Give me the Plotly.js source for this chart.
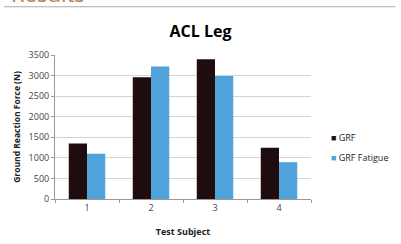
<!DOCTYPE html>
<html>
<head>
<meta charset="utf-8">
<script src="https://cdn.plot.ly/plotly-3.0.1.min.js"></script>
<style>html,body{margin:0;padding:0;background:#fff;}#chart{width:401px;height:244px;}</style>
</head>
<body>
<div id="chart"></div>
<script>
var categories = ["1", "2", "3", "4"];
var grf = [1350, 2960, 3395, 1245];
var grfFatigue = [1100, 3220, 2990, 895];
var yTicks = [0, 500, 1000, 1500, 2000, 2500, 3000, 3500];
var seriesNames = ["GRF", "GRF Fatigue"];
var seriesColors = ["#1f0c0f", "#4fa3da"];

var font = "Open Sans, Liberation Sans, sans-serif";
var data = [
  {type: "bar", name: seriesNames[0], x: categories, y: grf, marker: {color: seriesColors[0]}},
  {type: "bar", name: seriesNames[1], x: categories, y: grfFatigue, marker: {color: seriesColors[1]}}
];
var legendAnn = seriesNames.map(function (n, i) {
  return {
    text: "<span style='color:" + seriesColors[i] + "'>■</span> " + n,
    xref: "paper", yref: "paper", x: 1.07, y: 0.43 - i * 0.14,
    xanchor: "left", yanchor: "middle", showarrow: false,
    font: {family: font, size: 9, color: "#222"}
  };
});
var layout = {
  width: 401, height: 244,
  margin: {l: 55, r: 90, t: 55, b: 45},
  paper_bgcolor: "#fff", plot_bgcolor: "#fff",
  barmode: "group", bargap: 0.43, bargroupgap: 0,
  font: {family: font, size: 9, color: "#444"},
  title: {text: "<b>ACL Leg</b>", font: {family: font, size: 16, color: "#000"}, x: 0.5, xanchor: "center", y: 0.87, yanchor: "middle"},
  showlegend: false,
  xaxis: {
    type: "category", showline: true, linecolor: "#999", linewidth: 1,
    ticks: "outside", ticklen: 3, tickcolor: "#999", tickson: "boundaries",
    tickfont: {family: font, size: 9, color: "#444"},
    title: {text: "<b>Test Subject</b>", font: {family: font, size: 9, color: "#222"}, standoff: 15}
  },
  yaxis: {
    range: [0, 3500], tickvals: yTicks, showgrid: true, gridcolor: "#d4d4d4",
    showline: true, linecolor: "#999", ticks: "outside", ticklen: 3, tickcolor: "#999",
    tickfont: {family: font, size: 9, color: "#444"}, zeroline: false,
    title: {text: "<b>Ground Reaction Force (N)</b>", font: {family: font, size: 8.5, color: "#222"}, standoff: 6}
  },
  shapes: [{type: "line", xref: "paper", yref: "paper", x0: -0.2, x1: 1.33, y0: 1.335, y1: 1.335, line: {color: "#aaa", width: 1}}],
  annotations: [{text: "Results", xref: "paper", yref: "paper", x: -0.18, y: 1.31, xanchor: "left", yanchor: "bottom", showarrow: false, font: {family: font, size: 22, color: "#c27a52"}}].concat(legendAnn)
};
Plotly.newPlot("chart", data, layout, {displayModeBar: false, staticPlot: true});
</script>
</body>
</html>
